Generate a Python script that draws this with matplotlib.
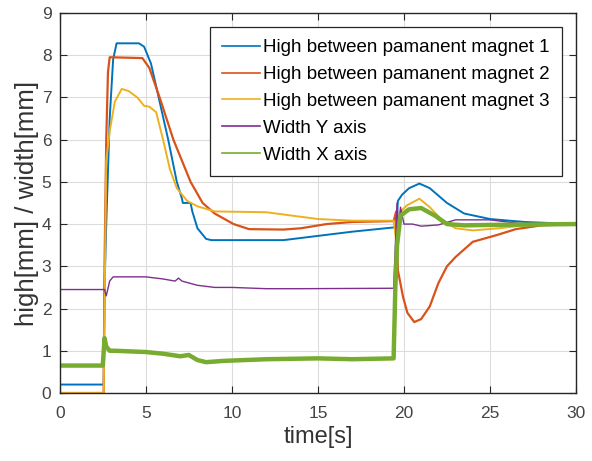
import matplotlib.pyplot as plt

plt.rcParams['font.family'] = ['Liberation Sans', 'DejaVu Sans']

# magnet 1 (blue)
t_m1 = [0, 2.55, 2.6, 2.7, 2.9, 3.1, 3.3, 4.6, 4.9, 5.3, 5.8, 6.3, 6.8, 7.1, 7.15, 7.6, 7.7,
        8.0, 8.5, 8.8, 13.0, 15.0, 17.0, 19.4, 19.55, 19.65, 19.9, 20.3, 20.9, 21.5, 22.5,
        23.5, 25.0, 27.0, 30.0]
y_m1 = [0.2, 0.2, 2.5, 4.0, 6.5, 7.9, 8.28, 8.28, 8.2, 7.8, 6.9, 6.0, 5.0, 4.6, 4.5, 4.5, 4.3,
        3.9, 3.65, 3.62, 3.62, 3.72, 3.82, 3.92, 3.9, 4.55, 4.7, 4.85, 4.96, 4.85, 4.5,
        4.25, 4.12, 4.05, 4.0]

# magnet 2 (orange)
t_m2 = [0, 2.55, 2.6, 2.7, 2.8, 2.9, 4.8, 5.2, 5.8, 6.6, 7.6, 8.3, 9.0, 10.1, 11.0, 13.0,
        14.0, 15.5, 17.0, 19.4, 19.55, 19.65, 19.95, 20.2, 20.6, 21.0, 21.5, 22.0, 22.5,
        23.0, 24.0, 25.4, 26.5, 28.0, 30.0]
y_m2 = [0.0, 0.0, 3.0, 6.0, 7.6, 7.95, 7.93, 7.7, 7.0, 6.0, 5.0, 4.5, 4.25, 4.0, 3.88, 3.87,
        3.9, 4.0, 4.05, 4.07, 4.3, 2.9, 2.27, 1.9, 1.68, 1.75, 2.05, 2.6, 3.0, 3.22,
        3.58, 3.74, 3.88, 3.97, 4.0]

# magnet 3 (yellow)
t_m3 = [0, 2.55, 2.6, 2.7, 2.9, 3.2, 3.6, 4.0, 4.5, 4.9, 5.2, 5.6, 6.0, 6.4, 6.8, 7.4, 8.0,
        9.0, 12.0, 13.5, 15.0, 17.0, 19.4, 19.55, 19.65, 19.8, 20.2, 20.9, 21.5, 22.2,
        23.0, 24.0, 25.5, 27.0, 30.0]
y_m3 = [0.0, 0.0, 2.0, 5.5, 6.2, 6.9, 7.2, 7.15, 7.0, 6.8, 6.78, 6.65, 6.0, 5.3, 4.85, 4.55,
        4.42, 4.3, 4.28, 4.2, 4.12, 4.08, 4.08, 3.6, 3.9, 4.3, 4.45, 4.6, 4.4, 4.1,
        3.9, 3.85, 3.9, 3.97, 4.0]

# width Y (purple)
t_wy = [0, 2.6, 2.7, 2.9, 3.1, 5.0, 6.0, 6.7, 6.9, 7.1, 8.0, 9.0, 10.0, 12.0, 14.0, 19.4,
        19.5, 19.6, 19.7, 19.8, 20.0, 20.5, 21.0, 22.0, 23.0, 25.0, 26.0, 27.0, 30.0]
y_wy = [2.45, 2.45, 2.3, 2.65, 2.75, 2.75, 2.7, 2.65, 2.72, 2.65, 2.55, 2.5, 2.5, 2.47, 2.47,
        2.48, 3.5, 4.5, 3.9, 4.4, 4.0, 4.0, 3.95, 3.98, 4.1, 4.1, 4.05, 4.0, 4.0]

# width X (green)
t_wx = [0, 2.5, 2.6, 2.7, 2.9, 3.2, 5.0, 6.0, 7.0, 7.5, 8.0, 8.5, 9.5, 12.0, 15.0, 17.0,
        19.4, 19.5, 19.6, 19.8, 20.3, 21.0, 21.8, 22.5, 23.5, 25.0, 30.0]
y_wx = [0.65, 0.65, 1.3, 1.1, 1.0, 1.0, 0.97, 0.93, 0.87, 0.9, 0.78, 0.73, 0.76, 0.8, 0.82,
        0.8, 0.82, 2.5, 3.5, 4.2, 4.35, 4.38, 4.2, 4.0, 3.97, 3.98, 4.0]

labels = ['High between pamanent magnet 1', 'High between pamanent magnet 2',
          'High between pamanent magnet 3', 'Width Y axis', 'Width X axis']
colors = ['#0072BD', '#D95319', '#EDB120', '#7E2F8E', '#77AC30']

fig = plt.figure(figsize=(5.92, 4.61), dpi=100)
ax = fig.add_axes([0.101, 0.1475, 0.872, 0.8245])

ax.plot(t_m1, y_m1, color=colors[0], lw=1.4, label=labels[0])
ax.plot(t_m2, y_m2, color=colors[1], lw=1.6, label=labels[1])
ax.plot(t_m3, y_m3, color=colors[2], lw=1.4, label=labels[2])
ax.plot(t_wy, y_wy, color=colors[3], lw=1.0, label=labels[3])
ax.plot(t_wx, y_wx, color=colors[4], lw=3.2, label=labels[4])

ax.set_xlim(0, 30)
ax.set_ylim(0, 9)
ax.set_xticks([0, 5, 10, 15, 20, 25, 30])
ax.set_yticks(range(0, 10))
ax.grid(True, color='#dcdcdc', lw=0.8)
ax.tick_params(direction='in', top=True, right=True, length=5, labelsize=12.5,
               labelcolor='#444444', color='#262626')
ax.tick_params(axis='x', pad=9)
ax.tick_params(axis='y', pad=6)
for s in ax.spines.values():
    s.set_color('#262626')
    s.set_linewidth(1.0)

ax.set_xlabel('time[s]', fontsize=17, color='#333333', labelpad=4)
ax.set_ylabel('high[mm] / width[mm]', fontsize=18.5, color='#333333', labelpad=2)

leg = ax.legend(loc='upper right', bbox_to_anchor=(0.973, 0.963), borderaxespad=0,
                fontsize=13.5, handlelength=2.0, handletextpad=0.2, labelspacing=0.52,
                fancybox=False, framealpha=1, edgecolor='#262626', borderpad=0.65)
leg.get_frame().set_linewidth(0.9)
for h in leg.get_lines():
    h.set_linewidth(1.2)

fig.savefig('out.png', dpi=100)
